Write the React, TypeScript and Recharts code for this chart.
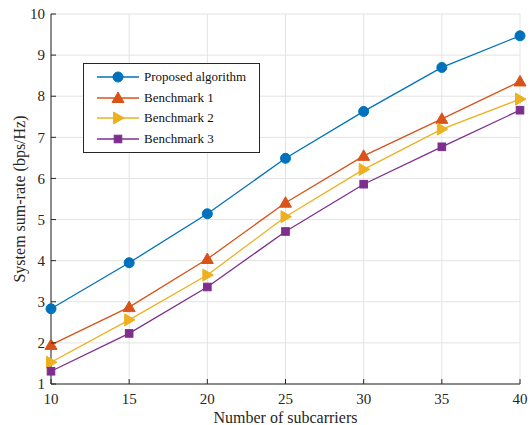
import React from "react";
import {
  LineChart,
  Line,
  XAxis,
  YAxis,
  CartesianGrid,
  Legend,
  Label,
} from "recharts";

const subcarriers = [10, 15, 20, 25, 30, 35, 40];
const proposed = [2.83, 3.95, 5.14, 6.49, 7.63, 8.7, 9.47];
const bench1 = [1.95, 2.87, 4.04, 5.41, 6.55, 7.45, 8.36];
const bench2 = [1.53, 2.56, 3.65, 5.07, 6.22, 7.2, 7.93];
const bench3 = [1.31, 2.23, 3.36, 4.71, 5.86, 6.77, 7.66];

const xTicks = [10, 15, 20, 25, 30, 35, 40];
const yTicks = [1, 2, 3, 4, 5, 6, 7, 8, 9, 10];

const FONT = "'Liberation Serif', 'Times New Roman', serif";
const AXIS = "#262626";
const TICK_LEN = 5;

type Marker = "circle" | "triUp" | "triRight" | "square";

const SERIES: { key: string; name: string; color: string; marker: Marker }[] = [
  { key: "proposed", name: "Proposed algorithm", color: "#0072BD", marker: "circle" },
  { key: "bench1", name: "Benchmark 1", color: "#D95319", marker: "triUp" },
  { key: "bench2", name: "Benchmark 2", color: "#EDB120", marker: "triRight" },
  { key: "bench3", name: "Benchmark 3", color: "#7E2F8E", marker: "square" },
];

const data = subcarriers.map((n, i) => ({
  n,
  proposed: proposed[i],
  bench1: bench1[i],
  bench2: bench2[i],
  bench3: bench3[i],
}));

function MarkerShape({ cx, cy, type, color }: { cx: number; cy: number; type: Marker; color: string }) {
  if (cx == null || cy == null) return null;
  switch (type) {
    case "circle":
      return <circle cx={cx} cy={cy} r={5} fill={color} stroke={color} />;
    case "triUp":
      return (
        <polygon
          points={`${cx},${cy - 6} ${cx - 6},${cy + 4.5} ${cx + 6},${cy + 4.5}`}
          fill={color}
          stroke={color}
        />
      );
    case "triRight":
      return (
        <polygon
          points={`${cx + 6},${cy} ${cx - 4.5},${cy - 6} ${cx - 4.5},${cy + 6}`}
          fill={color}
          stroke={color}
        />
      );
    default:
      return <rect x={cx - 3.8} y={cy - 3.8} width={7.6} height={7.6} fill={color} stroke={color} />;
  }
}

// ticks point inward like the original figure
const LeftTick = (props: any) => {
  const { x, y, payload } = props;
  const ax = x + 6;
  return (
    <g>
      <line x1={ax} x2={ax + TICK_LEN} y1={y} y2={y} stroke={AXIS} />
      <text x={x} y={y} dy="0.35em" textAnchor="end" fontFamily={FONT} fontSize={15} fill={AXIS}>
        {payload.value}
      </text>
    </g>
  );
};

const BottomTick = (props: any) => {
  const { x, y, payload } = props;
  const ay = y - 6;
  return (
    <g>
      <line x1={x} x2={x} y1={ay} y2={ay - TICK_LEN} stroke={AXIS} />
      <text x={x} y={y} dy="0.95em" textAnchor="middle" fontFamily={FONT} fontSize={15} fill={AXIS}>
        {payload.value}
      </text>
    </g>
  );
};

const TopTick = (props: any) => {
  const { x, y } = props;
  return <line x1={x} x2={x} y1={y} y2={y + TICK_LEN} stroke={AXIS} />;
};

const RightTick = (props: any) => {
  const { x, y } = props;
  return <line x1={x - TICK_LEN} x2={x} y1={y} y2={y} stroke={AXIS} />;
};

function LegendBox() {
  return (
    <div
      style={{
        border: `1px solid ${AXIS}`,
        background: "#fff",
        padding: "3px 8px 3px 12px",
        fontFamily: FONT,
        fontSize: 13,
        color: "#111",
      }}
    >
      {SERIES.map((s) => (
        <div key={s.key} style={{ display: "flex", alignItems: "center", height: 20.6 }}>
          <svg width={44} height={16} style={{ marginRight: 4 }}>
            <line x1={1} x2={43} y1={8} y2={8} stroke={s.color} strokeWidth={1.3} />
            <MarkerShape cx={22} cy={8} type={s.marker} color={s.color} />
          </svg>
          <span>{s.name}</span>
        </div>
      ))}
    </div>
  );
}

export default function App() {
  return (
    <div style={{ position: "absolute", left: 0, top: 0, background: "#fff" }}>
      <LineChart
        width={531}
        height={425}
        data={data}
        margin={{ top: 14, right: 11, bottom: 0, left: 0 }}
      >
        <CartesianGrid stroke="#e3e3e3" strokeWidth={1} />
        <XAxis
          dataKey="n"
          type="number"
          domain={[10, 40]}
          ticks={xTicks}
          height={41}
          tickSize={0}
          tickMargin={6}
          tickLine={false}
          axisLine={{ stroke: AXIS }}
          tick={<BottomTick />}
        >
          <Label
            value="Number of subcarriers"
            position="insideBottom"
            offset={0}
            dy={-2}
            style={{ fontFamily: FONT, fontSize: 16, fill: AXIS }}
          />
        </XAxis>
        <XAxis
          xAxisId="top"
          orientation="top"
          type="number"
          domain={[10, 40]}
          ticks={xTicks}
          height={0}
          tickSize={0}
          tickMargin={0}
          tickLine={false}
          axisLine={{ stroke: AXIS }}
          tick={<TopTick />}
        />
        <YAxis
          type="number"
          domain={[1, 10]}
          ticks={yTicks}
          width={51}
          tickSize={0}
          tickMargin={6}
          tickLine={false}
          axisLine={{ stroke: AXIS }}
          tick={<LeftTick />}
        >
          <Label
            value="System sum-rate (bps/Hz)"
            angle={-90}
            position="insideLeft"
            offset={0}
            dx={19}
            style={{ textAnchor: "middle", fontFamily: FONT, fontSize: 16, fill: AXIS }}
          />
        </YAxis>
        <YAxis
          yAxisId="right"
          orientation="right"
          type="number"
          domain={[1, 10]}
          ticks={yTicks}
          width={0}
          tickSize={0}
          tickMargin={0}
          tickLine={false}
          axisLine={{ stroke: AXIS }}
          tick={<RightTick />}
        />
        <Legend
          layout="horizontal"
          verticalAlign="middle"
          content={() => <LegendBox />}
          wrapperStyle={{ position: "absolute", left: 83, top: 63, width: 177 }}
        />
        {SERIES.map((s) => (
          <Line
            key={s.key}
            dataKey={s.key}
            name={s.name}
            stroke={s.color}
            strokeWidth={1.3}
            isAnimationActive={false}
            dot={(p: any) => (
              <MarkerShape key={`${s.key}-${p.index}`} cx={p.cx} cy={p.cy} type={s.marker} color={s.color} />
            )}
          />
        ))}
      </LineChart>
    </div>
  );
}
